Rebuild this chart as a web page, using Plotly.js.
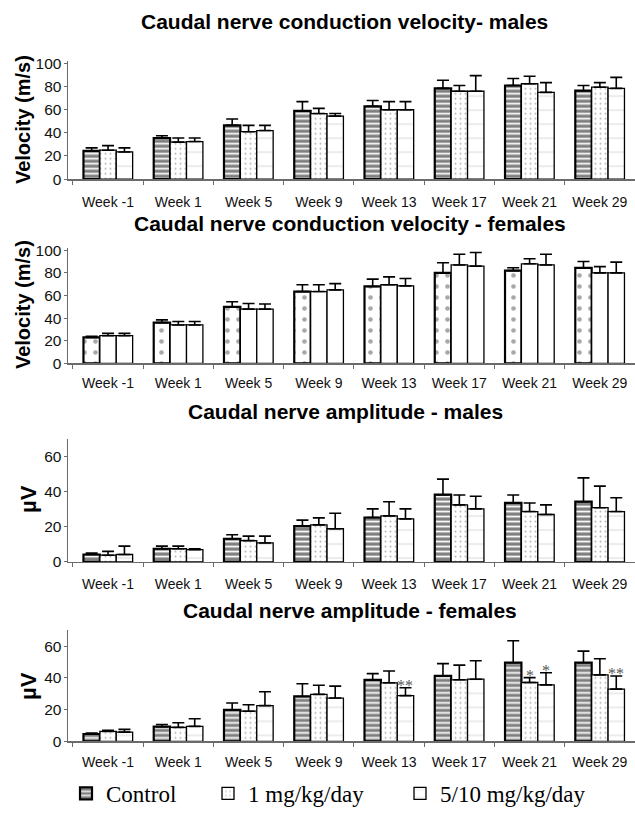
<!DOCTYPE html>
<html>
<head>
<meta charset="utf-8">
<script src="https://cdn.plot.ly/plotly-3.0.1.min.js"></script>
<style>html,body{margin:0;padding:0;background:#fff;}#chart{width:635px;height:815px;}</style>
</head>
<body>
<div id="chart"></div>
<script>
// ---------- data ----------
const weeks = ['Week -1','Week 1','Week 5','Week 9','Week 13','Week 17','Week 21','Week 29'];
const seriesNames = ['Control','1 mg/kg/day','5/10 mg/kg/day'];

// Caudal nerve conduction velocity - males (m/s)
const velMControl = [24.5, 35.5, 46.5, 59, 63, 78.5, 81, 76.5];
const velMControlErr = [2.5, 2, 5.5, 8, 5, 7, 6, 4.5];
const velM1 = [25, 32, 41, 56.7, 60, 76, 82.5, 79.5];
const velM1Err = [4, 3.5, 5.5, 4.5, 7, 5, 6.5, 4];
const velM510 = [23.5, 32.5, 42, 54.5, 60, 76, 75, 78.5];
const velM510Err = [3.5, 3, 4.5, 2.2, 7, 13.5, 8.5, 9.5];

// Caudal nerve conduction velocity - females (m/s)
const velFControl = [23, 36, 50, 63.5, 68, 80, 82, 84.5];
const velFControlErr = [1, 2.5, 4.5, 6, 6.5, 9, 2.5, 5.5];
const velF1 = [24.5, 34, 48, 63.5, 69.5, 87, 88, 80];
const velF1Err = [2, 3, 5, 6, 7, 9.5, 4.5, 5.5];
const velF510 = [24.5, 34, 48, 65, 68.5, 86, 87, 80];
const velF510Err = [2, 3, 4.5, 5.5, 6.5, 12, 9.5, 9.5];

// Caudal nerve amplitude - males (uV)
const ampMControl = [4.2, 7.5, 13.2, 20.4, 25.3, 38.3, 33.6, 34.3];
const ampMControlErr = [0.9, 1.5, 2.3, 3.4, 4.9, 8.9, 4.5, 13.6];
const ampM1 = [3.8, 7.5, 12.1, 21.1, 26.2, 32.5, 28.7, 30.9];
const ampM1Err = [2.2, 1.5, 2.6, 4, 8.1, 5.6, 4.9, 12.3];
const ampM510 = [4.2, 7, 10.8, 18.9, 24.5, 30.2, 27, 28.7];
const ampM510Err = [4.8, 0.5, 3.9, 8.8, 5.7, 7.2, 5.5, 7.9];

// Caudal nerve amplitude - females (uV)
const ampFControl = [4.6, 9.2, 19.8, 28.3, 38.8, 41.3, 49.6, 49.6];
const ampFControlErr = [0.6, 1.4, 4.4, 8, 3.9, 7.7, 13.9, 7.3];
const ampF1 = [6.2, 8.8, 19, 29.6, 36.9, 38.8, 37.1, 41.9];
const ampF1Err = [0.7, 2.9, 4.1, 5.8, 7.5, 9.3, 3.1, 10.2];
const ampF510 = [5.8, 9.4, 22.5, 27.3, 28.8, 39.2, 35.6, 32.9];
const ampF510Err = [1.7, 4.8, 8.8, 7.5, 5, 11.6, 7.7, 8.3];

// significance markers (amplitude - females)
const ampF1Sig = ['', '', '', '', '', '', '*', ''];
const ampF510Sig = ['', '', '', '', '**', '', '*', '**'];

const panelTitles = [
  'Caudal nerve conduction velocity- males',
  'Caudal nerve conduction velocity - females',
  'Caudal nerve amplitude - males',
  'Caudal nerve amplitude - females'
];
const yTitles = ['Velocity (m/s)', 'Velocity (m/s)', 'µV', 'µV'];

// ---------- styles ----------
const W = 635, H = 815;
const tickFont = {family: 'Liberation Sans, Arial, sans-serif', size: 14, color: '#111'};
const patCtrl = {shape: '-', bgcolor: '#7f7f7f', fgcolor: '#ffffff', size: 5, solidity: 0.35, fillmode: 'replace'};
const patCtrlF = {shape: '.', bgcolor: '#ffffff', fgcolor: '#a8a8a8', size: 11, solidity: 0.14, fillmode: 'replace'};
const pat1 = {shape: '.', bgcolor: '#ffffff', fgcolor: '#b5b5b5', size: 5, solidity: 0.12, fillmode: 'replace'};
const pat510 = {shape: '-', bgcolor: '#ffffff', fgcolor: '#d0d0d0', size: 14, solidity: 0.06, fillmode: 'replace'};
const patPlain = {shape: '', bgcolor: '#ffffff'};

const panels = [
  {c: velMControl, ce: velMControlErr, a: velM1, ae: velM1Err, b: velM510, be: velM510Err, range: [0, 102], pats: [patCtrl, pat1, pat510], dom: [182, 62.2]},
  {c: velFControl, ce: velFControlErr, a: velF1, ae: velF1Err, b: velF510, be: velF510Err, range: [0, 102], pats: [patCtrlF, patPlain, patPlain], dom: [369.3, 252]},
  {c: ampMControl, ce: ampMControlErr, a: ampM1, ae: ampM1Err, b: ampM510, be: ampM510Err, range: [0, 70], pats: [patCtrl, pat1, pat510], dom: [571, 446.2]},
  {c: ampFControl, ce: ampFControlErr, a: ampF1, ae: ampF1Err, b: ampF510, be: ampF510Err, range: [0, 70], pats: [patCtrl, pat1, pat510], dom: [753.3, 640.6]}
];
const labelStandoff = [10, 6, 9, 7];

const traces = [];
const layout = {
  width: W, height: H,
  margin: {l: 0, r: 0, t: 0, b: 0},
  paper_bgcolor: '#ffffff', plot_bgcolor: 'rgba(0,0,0,0)',
  barmode: 'group', bargap: 0.30, bargroupgap: 0,
  font: {family: 'Liberation Sans, Arial, sans-serif', color: '#000'},
  annotations: [],
  showlegend: true
};

const legendNames = ['legend', 'legend2', 'legend3'];
const legendX = [66, 208, 400];

panels.forEach((p, i) => {
  const n = i + 1;
  const xa = n === 1 ? 'x' : 'x' + n;
  const ya = n === 1 ? 'y' : 'y' + n;
  const vals = [p.c, p.a, p.b];
  const errs = [p.ce, p.ae, p.be];
  vals.forEach((v, k) => {
    traces.push({
      type: 'bar', x: weeks, y: v, xaxis: xa, yaxis: ya,
      name: seriesNames[k],
      showlegend: i === 3,
      legend: legendNames[k],
      marker: {color: '#ffffff', pattern: p.pats[k], line: {color: '#000', width: k === 0 ? 2.2 : 1.3}},
      error_y: {type: 'data', symmetric: false, array: errs[k], arrayminus: v.map(() => 0), color: '#000', thickness: 1.6, width: 6},
      hoverinfo: 'skip'
    });
  });
  const axKey = n === 1 ? '' : String(n);
  layout['xaxis' + axKey] = {
    domain: [68 / W, 1], range: [-0.57, 7.5], type: 'category',
    showline: true, linecolor: '#6b6b6b', linewidth: 1.5,
    ticks: 'outside', tickson: 'boundaries', ticklen: 4, tickcolor: '#6b6b6b', tickwidth: 1,
    tickangle: 0, ticklabelstandoff: labelStandoff[i],
    tickfont: tickFont, showgrid: false, zeroline: false, fixedrange: true,
    anchor: ya
  };
  layout['yaxis' + axKey] = {
    domain: [1 - p.dom[0] / H, 1 - p.dom[1] / H], range: p.range, dtick: 20,
    showline: true, linecolor: '#6b6b6b', linewidth: 1.5,
    ticks: 'outside', ticklen: 3, tickcolor: '#6b6b6b', tickwidth: 1,
    ticklabelstandoff: -1,
    tickfont: {family: 'Liberation Sans, Arial, sans-serif', size: 15.5, color: '#111'},
    showgrid: false, zeroline: false, fixedrange: true,
    anchor: xa
  };
});

// panel titles
const titleY = [21.7, 226.7, 418, 620];
const titleX = [344, 350, 345, 350];
panelTitles.forEach((t, i) => {
  layout.annotations.push({
    text: '<b>' + t + '</b>', xref: 'paper', yref: 'paper', x: titleX[i] / W, y: 1 - titleY[i] / H,
    xanchor: 'center', yanchor: 'middle', showarrow: false,
    font: {family: 'Liberation Sans, Arial, sans-serif', size: 21, color: '#000'}
  });
});
// y-axis titles
const yTitleCenters = [122, 310, 507, 697];
yTitles.forEach((t, i) => {
  layout.annotations.push({
    text: '<b>' + t + '</b>', xref: 'paper', yref: 'paper', x: (i < 2 ? 23 : 29) / W, y: 1 - yTitleCenters[i] / H,
    xanchor: 'center', yanchor: 'middle', textangle: -90, showarrow: false,
    font: {family: 'Liberation Sans, Arial, sans-serif', size: i < 2 ? 20 : 22, color: '#000'}
  });
});
// significance asterisks (panel 4)
const barPx = 70.26 * 0.7 / 3;
[[ampF1, ampF1Err, ampF1Sig, 0], [ampF510, ampF510Err, ampF510Sig, 1]].forEach(([v, e, s, off]) => {
  s.forEach((lab, j) => {
    if (!lab) return;
    layout.annotations.push({
      text: lab, xref: 'x4', yref: 'y4', x: weeks[j], y: v[j] + e[j],
      xshift: off * barPx, yshift: -8, xanchor: 'center', yanchor: 'bottom', showarrow: false,
      font: {family: 'Liberation Serif, Times New Roman, serif', size: 16, color: '#555555'}
    });
  });
});

// legends
legendNames.forEach((ln, k) => {
  layout[ln] = {
    x: legendX[k] / W, y: 1 - 806.7 / H, xanchor: 'left', yanchor: 'middle',
    orientation: 'h', bgcolor: 'rgba(0,0,0,0)', borderwidth: 0,
    font: {family: 'Liberation Serif, Times New Roman, serif', size: 23, color: '#000'},
    itemclick: false, itemdoubleclick: false
  };
});

Plotly.newPlot('chart', traces, layout, {displayModeBar: false, staticPlot: true});
</script>
</body>
</html>
